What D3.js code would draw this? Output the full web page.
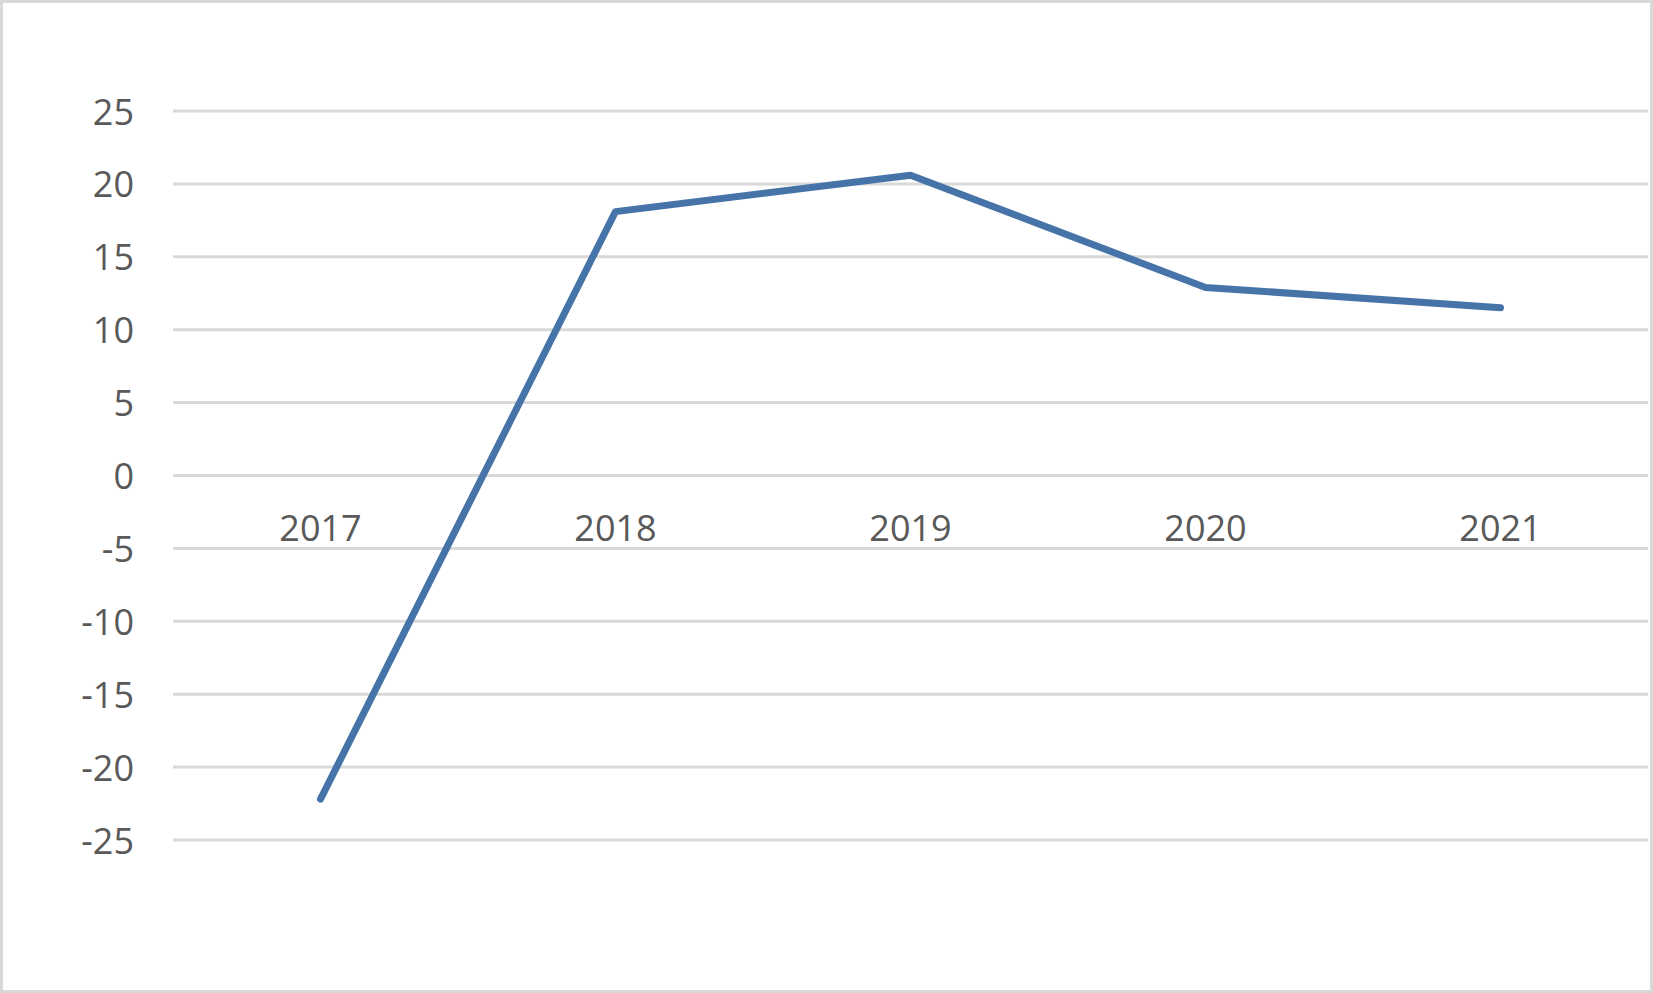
<!DOCTYPE html>
<html>
<head>
<meta charset="utf-8">
<script src="https://cdn.jsdelivr.net/npm/d3@7"></script>
<style>
  body { margin: 0; background: #fff; }
  svg { display: block; }
</style>
</head>
<body>
<div id="chart"></div>
<script>
const YEARS  = ["2017", "2018", "2019", "2020", "2021"];
const VALUES = [-22.2, 18.1, 20.6, 12.9, 11.5];
const Y_TICKS = [25, 20, 15, 10, 5, 0, -5, -10, -15, -20, -25];

const W = 1653, H = 993;
const PLOT = { left: 173, right: 1648, top: 111, bottom: 840 };
const LINE_COLOR = "#4674a8";
const GRID_COLOR = "#d9d9d9";
const TEXT_COLOR = "#595959";
const FONT = "'Open Sans', 'Liberation Sans', sans-serif";

const svg = d3.select("#chart")
  .append("svg")
  .attr("width", W)
  .attr("height", H);

svg.append("rect")
  .attr("x", 1.5).attr("y", 1.5)
  .attr("width", W - 3).attr("height", H - 3)
  .attr("fill", "#fff")
  .attr("stroke", GRID_COLOR)
  .attr("stroke-width", 3);

const x = d3.scalePoint()
  .domain(YEARS)
  .range([PLOT.left, PLOT.right])
  .padding(0.5);

const y = d3.scaleLinear()
  .domain([-25, 25])
  .range([PLOT.bottom, PLOT.top]);

// horizontal gridlines
svg.append("g")
  .selectAll("line")
  .data(Y_TICKS)
  .join("line")
  .attr("x1", PLOT.left)
  .attr("x2", PLOT.right)
  .attr("y1", d => y(d))
  .attr("y2", d => y(d))
  .attr("stroke", GRID_COLOR)
  .attr("stroke-width", 3);

// y labels
svg.append("g")
  .selectAll("text")
  .data(Y_TICKS)
  .join("text")
  .attr("x", 134)
  .attr("y", d => y(d))
  .attr("text-anchor", "end")
  .attr("dominant-baseline", "central")
  .style("font-family", FONT)
  .style("font-size", "36px")
  .style("fill", TEXT_COLOR)
  .text(d => d);

// category labels, hung just under the zero line
svg.append("g")
  .selectAll("text")
  .data(YEARS)
  .join("text")
  .attr("x", d => x(d))
  .attr("y", y(0) + 65)
  .attr("text-anchor", "middle")
  .style("font-family", FONT)
  .style("font-size", "36px")
  .style("fill", TEXT_COLOR)
  .text(d => d);

const line = d3.line()
  .x((d, i) => x(YEARS[i]))
  .y(d => y(d));

svg.append("path")
  .datum(VALUES)
  .attr("d", line)
  .attr("fill", "none")
  .attr("stroke", LINE_COLOR)
  .attr("stroke-width", 7)
  .attr("stroke-linecap", "round")
  .attr("stroke-linejoin", "round");
</script>
</body>
</html>
